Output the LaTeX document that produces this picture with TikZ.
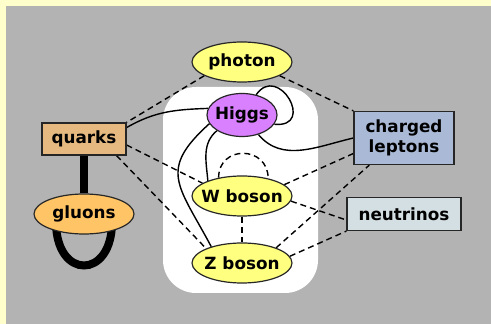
\documentclass[tikz,border=0pt]{standalone}
\usepackage{fontspec}
\setmainfont{DejaVu Sans}
\usetikzlibrary{shapes.geometric}
\pgfdeclarelayer{back}
\pgfdeclarelayer{links}
\pgfsetlayers{back,links,main}
\definecolor{pale}{HTML}{FFFFCC}
\definecolor{panel}{HTML}{B3B3B3}
\definecolor{boson}{HTML}{FFFF80}
\definecolor{scalar}{HTML}{D980FF}
\definecolor{quarkfill}{HTML}{E6B980}
\definecolor{gluonfill}{HTML}{FFC466}
\definecolor{leptonfill}{HTML}{A9B9D6}
\definecolor{nufill}{HTML}{D4DFE3}
\begin{document}
\begin{tikzpicture}[x=1pt,y=1pt,
  particle/.style={draw=black!85, line width=1.2pt,
    font=\fontsize{16.8}{20}\selectfont\bfseries, text=black,
    inner sep=0pt, align=center},
  oval/.style={particle, ellipse, inner xsep=-8pt},
  box/.style={particle, rectangle},
  link/.style={line width=1.4pt},
  weak/.style={link, dash pattern=on 6pt off 4pt},
  glue/.style={line width=8pt}]

% page, panel and the white field behind the bosons
\begin{pgfonlayer}{back}
  \fill[pale] (0,0) rectangle (491,324);
  \fill[panel] (6,0) rectangle (491,318);
  \fill[white, rounded corners=33pt] (163,31) rectangle (318,237);
\end{pgfonlayer}

% particles
\node[oval, fill=boson, minimum width=100pt, minimum height=40pt] (photon) at (242,262) {photon};
\node[oval, fill=scalar, minimum width=70pt, minimum height=43pt] (higgs) at (242,209) {Higgs};
\node[oval, fill=boson, minimum width=100pt, minimum height=40pt] (wboson) at (242,128) {W boson};
\node[oval, fill=boson, minimum width=100pt, minimum height=40pt] (zboson) at (242,61) {Z boson};
\node[box, fill=quarkfill, minimum width=84pt, minimum height=32pt] (quarks) at (84,185) {quarks};
\node[oval, fill=gluonfill, minimum width=100pt, minimum height=40pt] (gluons) at (84,110) {gluons};
\node[box, fill=leptonfill, minimum width=100pt, minimum height=53pt] (leptons) at (404,186) {charged\\leptons};
\node[box, fill=nufill, minimum width=114pt, minimum height=33pt] (neutrinos) at (404,110) {neutrinos};

\begin{pgfonlayer}{links}
  % strong interaction
  \draw[glue] (quarks.south) -- (gluons.north);
  \draw[glue] ([xshift=-28pt,yshift=-8pt]gluons.center)
    .. controls +(0,-58) and +(0,-58) .. ([xshift=28pt,yshift=-8pt]gluons.center);
  % Higgs couplings
  \draw[link] (quarks.15) to[out=30,in=182] (higgs.169);
  \draw[link] (higgs.55) .. controls +(22,32) and +(42,-4) .. (higgs.-16);
  \draw[link] (higgs.-50) to[out=-50,in=193] (leptons.west);
  \draw[link] (higgs.212) to[out=220,in=95] (wboson.156);
  \draw[link] (higgs.195) to[out=222,in=118,looseness=1.45] (zboson.152);
  % gauge couplings
  \draw[weak] (photon.200) -- (quarks.north east);
  \draw[weak] (photon.-20) -- (leptons.north west);
  \draw[weak] (quarks.-8) -- (wboson.162);
  \draw[weak] (quarks.-27) -- (zboson.158);
  \draw[weak] (wboson.142) to[out=90,in=90,looseness=1.7] (wboson.34);
  \draw[weak] (wboson.south) -- (zboson.north);
  \draw[weak] (wboson.15) -- (leptons.197);
  \draw[weak] (wboson.-6) -- (neutrinos.186);
  \draw[weak] (zboson.24) -- (leptons.218);
  \draw[weak] (zboson.8) -- (neutrinos.south west);
\end{pgfonlayer}
\end{tikzpicture}
\end{document}
